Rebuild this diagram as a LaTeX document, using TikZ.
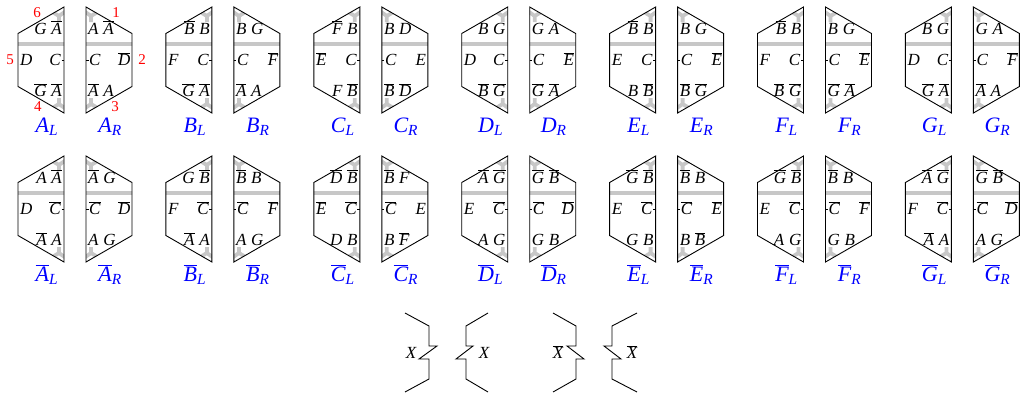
\documentclass[tikz,border=0pt]{standalone}
\usepackage{fontspec}
\setmainfont{Liberation Serif}
\usetikzlibrary{calc}
\newcommand{\ob}[1]{\ensuremath{\overline{\mbox{#1}}}}

\begin{document}
\begin{tikzpicture}[x=1pt, y=-1pt,
    edge/.style={black, line width=0.9pt, line join=miter},
    cell/.style={black!22, line width=3.8pt},
    letter/.style={font=\fontsize{17}{20}\selectfont\itshape, inner sep=0pt},
    corner/.style={font=\fontsize{15}{18}\selectfont, red, inner sep=0pt},
    tilename/.style={font=\fontsize{22}{26}\selectfont, blue, inner sep=0pt, anchor=base}]
    \useasboundingbox (0,0) rectangle (1023,397);

    % Half tiles: row/column/name/left top/left side/left bottom/right top/right side/right bottom
    \foreach \r/\i/\n/\lt/\ll/\lb/\rt/\rr/\rb in {
        0/0/A/{G\;\ob{A}}/D/{\ob{G}\;\ob{A}}/{A\;\ob{A}}/\ob{D}/{\ob{A}\;A},
        0/1/B/{\ob{B}\;B}/F/{\ob{G}\;\ob{A}}/{B\;G}/\ob{F}/{\ob{A}\;A},
        0/2/C/{\ob{F}\;B}/\ob{E}/{F\;\ob{B}}/{B\;D}/E/{\ob{B}\;\ob{D}},
        0/3/D/{B\;G}/D/{\ob{B}\;\ob{G}}/{G\;A}/\ob{E}/{\ob{G}\;\ob{A}},
        0/4/E/{\ob{B}\;B}/E/{B\;\ob{B}}/{B\;G}/\ob{E}/{\ob{B}\;\ob{G}},
        0/5/F/{\ob{B}\;B}/F/{\ob{B}\;\ob{G}}/{B\;G}/\ob{E}/{\ob{G}\;\ob{A}},
        0/6/G/{B\;G}/D/{\ob{G}\;\ob{A}}/{G\;A}/\ob{F}/{\ob{A}\;A},
        1/0/\overline{A}/{A\;\ob{A}}/D/{\ob{A}\;A}/{\ob{A}\;G}/\ob{D}/{A\;G},
        1/1/\overline{B}/{G\;\ob{B}}/F/{\ob{A}\;A}/{\ob{B}\;B}/\ob{F}/{A\;G},
        1/2/\overline{C}/{\ob{D}\;\ob{B}}/\ob{E}/{D\;B}/{\ob{B}\;F}/E/{B\;\ob{F}},
        1/3/\overline{D}/{\ob{A}\;\ob{G}}/E/{A\;G}/{\ob{G}\;\ob{B}}/\ob{D}/{G\;B},
        1/4/\overline{E}/{\ob{G}\;\ob{B}}/E/{G\;B}/{\ob{B}\;B}/\ob{E}/{B\;\ob{B}},
        1/5/\overline{F}/{\ob{G}\;\ob{B}}/E/{A\;G}/{\ob{B}\;B}/\ob{F}/{G\;B},
        1/6/\overline{G}/{\ob{A}\;\ob{G}}/F/{\ob{A}\;A}/{\ob{G}\;\ob{B}}/\ob{D}/{A\;G}} {
      \begin{scope}[shift={(64+147.9*\i, 149*\r)}]
        % left half, straight side at x=0
        \begin{scope}
          \clip (0,7) -- (-46,33.5) -- (-46,86.5) -- (0,113) -- cycle;
          \draw[cell] (-48,44) -- (2,44);
          \draw[cell] (-15,10) -- (-5,16) -- (2,11) (-5,16) -- (-5,22);
          \draw[cell] (-15,110) -- (-5,104) -- (2,109) (-5,104) -- (-5,98);
        \end{scope}
        \draw[edge] (0,7) -- (-46,33.5) -- (-46,86.5) -- (0,113) -- cycle;
        \draw[edge] (-2.5,60) -- (0,60);
        % right half, straight side at x=22
        \begin{scope}
          \clip (22,7) -- (68,33.5) -- (68,86.5) -- (22,113) -- cycle;
          \draw[cell] (20,44) -- (70,44);
          \draw[cell] (37,10) -- (27,16) -- (20,11) (27,16) -- (27,22);
          \draw[cell] (37,110) -- (27,104) -- (20,109) (27,104) -- (27,98);
        \end{scope}
        \draw[edge] (22,7) -- (68,33.5) -- (68,86.5) -- (22,113) -- cycle;
        \draw[edge] (22,60) -- (24.5,60);
        % labels
        \node[letter, anchor=base east] (lt\r\i) at (-2,34) {\lt};
        \node[letter, anchor=base west] (ll\r\i) at (-44,65.5) {\ll};
        \node[letter, anchor=base east] (lc\r\i) at (-3,65.5) {\ifnum\r=0 C\else\ob{C}\fi};
        \node[letter, anchor=base east] (lb\r\i) at (-2,96.5) {\lb};
        \node[letter, anchor=base west] (rt\r\i) at (24,34) {\rt};
        \node[letter, anchor=base west] (rc\r\i) at (25,65.5) {\ifnum\r=0 C\else\ob{C}\fi};
        \node[letter, anchor=base east] (rr\r\i) at (66.5,65.5) {\rr};
        \node[letter, anchor=base west] (rb\r\i) at (24,96.5) {\rb};
        \node[tilename] (nl\r\i) at (-17,132) {$\mathit{\n}_{\mathit{L}}$};
        \node[tilename] (nr\r\i) at (46,132) {$\mathit{\n}_{\mathit{R}}$};
      \end{scope}
    }

    % Corner numbers of the first pair
    \node[corner] (c6) at (37,13) {6};
    \node[corner] (c5) at (10,60) {5};
    \node[corner] (c4) at (38,107) {4};
    \node[corner] (c1) at (116,13) {1};
    \node[corner] (c2) at (142,60) {2};
    \node[corner] (c3) at (115,107) {3};

    % Edge types X and X-bar
    \draw[edge] (405,313) -- (429,326) -- (429,346) -- (437,346) -- (419,359) -- (429,359) -- (429,379) -- (405,392);
    \draw[edge] (488,313) -- (466,326) -- (466,346) -- (473,346) -- (456,359) -- (466,359) -- (466,379) -- (488,392);
    \draw[edge] (553,313) -- (576,326) -- (576,346) -- (567,346) -- (584,359) -- (576,359) -- (576,379) -- (553,392);
    \draw[edge] (637,313) -- (612,326) -- (612,346) -- (604,346) -- (621,359) -- (612,359) -- (612,379) -- (637,392);
    \node[letter] (x1) at (411,353) {X};
    \node[letter] (x2) at (484,353) {X};
    \node[letter] (x3) at (558,352) {\ob{X}};
    \node[letter] (x4) at (632,352) {\ob{X}};
\end{tikzpicture}
\end{document}
